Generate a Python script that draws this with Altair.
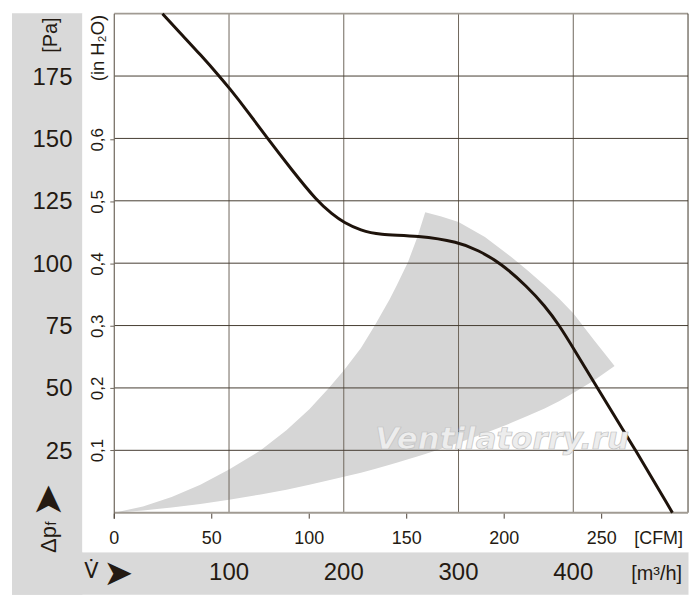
import altair as alt
import pandas as pd

# ---------------- data ----------------
# fan characteristic curve: flow [m³/h] vs static pressure [Pa]
curve_q = [42, 60, 75, 91.5, 100, 115, 133, 155, 176.5, 190, 200, 215, 230, 265,
           300, 317, 337, 360, 375, 388, 400, 421, 454.5, 486.4]
curve_p = [200, 191, 183.6, 175, 170.3, 161.6, 150.3, 137.2, 125, 119.6, 116.3, 113.1,
           111.4, 111, 108.5, 105.2, 100, 90.5, 83, 75, 66, 50, 25, 0]

# grey recommended operating region (upper / lower boundary, Pa)
region_q = [0, 25, 50, 75, 100, 127.6, 150, 170, 187, 200, 215, 227, 240, 246, 256,
            264, 271, 285, 300, 323, 346, 360, 375, 388, 400, 418, 436]
region_hi = [0, 2.5, 6.3, 11.2, 17.3, 25, 33, 41.5, 50, 57, 66, 75, 85.5, 91, 100.5,
             110.3, 120.4, 118.7, 116.5, 110.5, 102.5, 97.2, 91.2, 85.6, 79.9, 69.2, 58.8]
region_lo = [0, 0.9, 2.1, 3.5, 5.2, 7.3, 9.2, 11.2, 13, 14.4, 16, 17.5, 19.2, 20, 21.4,
             22.5, 23.5, 25.6, 28, 31.8, 36, 38.8, 41.8, 44.8, 48, 53, 58.8]

# axes / ticks
pa_ticks = [25, 50, 75, 100, 125, 150, 175]
inh2o_ticks = [0.1, 0.2, 0.3, 0.4, 0.5, 0.6]
inh2o_labels = ["0,1", "0,2", "0,3", "0,4", "0,5", "0,6"]
m3h_ticks = [100, 200, 300, 400]
cfm_ticks = [0, 50, 100, 150, 200, 250]

PA_PER_INH2O = 249.089
M3H_PER_CFM = 1.69901

W, H = 576, 501
TXT = "#241a12"
FONT = "Liberation Sans"

xs = alt.Scale(domain=[0, 500], nice=False, zero=False)
ys = alt.Scale(domain=[0, 200], nice=False, zero=False)

one = pd.DataFrame({"a": [0]})


def label(text, x, y, size, angle=0, font=FONT, align="center"):
    kw = dict(font=font, fontSize=size, color=TXT, align=align, baseline="middle", text=text)
    if angle:
        kw["angle"] = angle
    return alt.Chart(one).mark_text(**kw).encode(x=alt.value(x), y=alt.value(y))


# ---------------- layers ----------------
left_band = alt.Chart(one).mark_rect(color="#d9d9d9").encode(
    x=alt.value(-102.7), x2=alt.value(-32), y=alt.value(-0.5), y2=alt.value(583.5))
bottom_band = alt.Chart(one).mark_rect(color="#d9d9d9").encode(
    x=alt.value(-102.7), x2=alt.value(576.5), y=alt.value(540.8), y2=alt.value(583.5))
plot_bg = alt.Chart(one).mark_rect(color="white").encode(
    x=alt.value(-32), x2=alt.value(576.5), y=alt.value(-0.5), y2=alt.value(540.8))

region_df = pd.DataFrame({"q": region_q, "hi": region_hi, "lo": region_lo})
region = alt.Chart(region_df).mark_area(color="#d6d6d6", interpolate="linear").encode(
    x=alt.X("q:Q", scale=xs, axis=None),
    y=alt.Y("hi:Q", scale=ys, axis=None),
    y2="lo:Q",
)

vgrid = alt.Chart(pd.DataFrame({"q": m3h_ticks})).mark_rule(
    color="#6f675c", strokeWidth=1).encode(
    x=alt.X("q:Q", scale=xs, axis=None), y=alt.value(0), y2=alt.value(H))
hgrid = alt.Chart(pd.DataFrame({"p": pa_ticks})).mark_rule(
    color="#463c31", strokeWidth=1).encode(
    y=alt.Y("p:Q", scale=ys, axis=None), x=alt.value(0), x2=alt.value(W))

top_line = alt.Chart(one).mark_rule(color="#a19b93", strokeWidth=1.6).encode(
    x=alt.value(0), x2=alt.value(W), y=alt.value(0))
right_line = alt.Chart(one).mark_rule(color="#3d3428", strokeWidth=1).encode(
    x=alt.value(W), y=alt.value(0), y2=alt.value(H))
left_line = alt.Chart(one).mark_rule(color="#6e665c", strokeWidth=1.2).encode(
    x=alt.value(0), y=alt.value(0), y2=alt.value(H + 6))
bottom_line = alt.Chart(one).mark_rule(color="#a19b93", strokeWidth=2).encode(
    x=alt.value(0), x2=alt.value(W), y=alt.value(H))

cfm_df = pd.DataFrame({"cfm": cfm_ticks, "label": [str(c) for c in cfm_ticks]})
cfm_tick_marks = alt.Chart(cfm_df).transform_calculate(
    q=f"datum.cfm * {M3H_PER_CFM}").mark_rule(color="#4d4338", strokeWidth=1).encode(
    x=alt.X("q:Q", scale=xs, axis=None), y=alt.value(H + 1), y2=alt.value(H + 6))
cfm_labels = alt.Chart(cfm_df).transform_calculate(
    q=f"datum.cfm * {M3H_PER_CFM}").mark_text(
    font=FONT, fontSize=18, color=TXT, align="center", baseline="middle").encode(
    x=alt.X("q:Q", scale=xs, axis=None), y=alt.value(H + 26.5), text="label:N")
cfm_unit = label("[CFM]", 546.5, H + 26.5, 18)

m3h_df = pd.DataFrame({"q": m3h_ticks, "label": [str(v) for v in m3h_ticks]})
m3h_labels = alt.Chart(m3h_df).mark_text(
    font=FONT, fontSize=24, color=TXT, align="center", baseline="middle").encode(
    x=alt.X("q:Q", scale=xs, axis=None), y=alt.value(562), text="label:N")
m3h_unit = label("[m³/h]", 544.5, 563, 20)
v_dot = label("V̇", -23, 561, 21, font="DejaVu Sans")
v_arrow = label("➤", 4, 563, 36, font="DejaVu Sans")

pa_df = pd.DataFrame({"p": pa_ticks, "label": [str(v) for v in pa_ticks]})
pa_labels = alt.Chart(pa_df).mark_text(
    font=FONT, fontSize=24, color=TXT, align="right", baseline="middle", dy=1.5).encode(
    y=alt.Y("p:Q", scale=ys, axis=None), x=alt.value(-42), text="label:N")
pa_unit = label("[Pa]", -63.5, 21.5, 20, angle=270)

h2o_df = pd.DataFrame({"h": inh2o_ticks, "label": inh2o_labels})
h2o_labels = alt.Chart(h2o_df).transform_calculate(
    p=f"datum.h * {PA_PER_INH2O}").mark_text(
    font=FONT, fontSize=17, color=TXT, align="center", baseline="middle", angle=270).encode(
    y=alt.Y("p:Q", scale=ys, axis=None), x=alt.value(-16.5), text="label:N")
h2o_ticks_m = alt.Chart(h2o_df).transform_calculate(
    p=f"datum.h * {PA_PER_INH2O}").mark_rule(color="#6e665c", strokeWidth=1).encode(
    y=alt.Y("p:Q", scale=ys, axis=None), x=alt.value(-4), x2=alt.value(0))
h2o_unit = label("(in H₂O)", -16.5, 34.5, 18.5, angle=270)

dp_main = label("Δp", -65.7, 528, 22, angle=270)
dp_sub = label("f", -62.5, 512, 14, angle=270)
dp_arrow = label("➤", -65.7, 488.5, 40, angle=270, font="DejaVu Sans")

curve_df = pd.DataFrame({"q": curve_q, "p": curve_p})
curve = alt.Chart(curve_df).mark_line(
    color="#1e130b", strokeWidth=3, interpolate="basis").encode(
    x=alt.X("q:Q", scale=xs, axis=None), y=alt.Y("p:Q", scale=ys, axis=None))

watermark = alt.Chart(pd.DataFrame({"q": [338], "p": [25.5], "t": ["Ventilatorry.ru"]})).mark_text(
    font="DejaVu Sans", fontSize=31, fontStyle="italic", fontWeight="bold", fill="#ededed",
    stroke="#c2c2c2", strokeWidth=0.7, align="center", baseline="alphabetic").encode(
    x=alt.X("q:Q", scale=xs, axis=None), y=alt.Y("p:Q", scale=ys, axis=None), text="t:N")

chart = alt.layer(
    left_band, bottom_band, plot_bg, region, vgrid, hgrid, top_line, right_line,
    bottom_line, left_line, cfm_tick_marks, h2o_ticks_m, curve, watermark,
    cfm_labels, cfm_unit, m3h_labels, m3h_unit, v_dot, v_arrow, pa_labels, pa_unit,
    h2o_labels, h2o_unit, dp_main, dp_sub, dp_arrow,
).properties(
    width=W, height=H,
    padding={"left": 106.7, "top": 4.5, "right": 4, "bottom": 96},
    autosize=alt.AutoSizeParams(type="none"),
    background="white",
).configure_view(stroke=None)

chart.save("out.html", embed_options={"renderer": "svg", "actions": False})
